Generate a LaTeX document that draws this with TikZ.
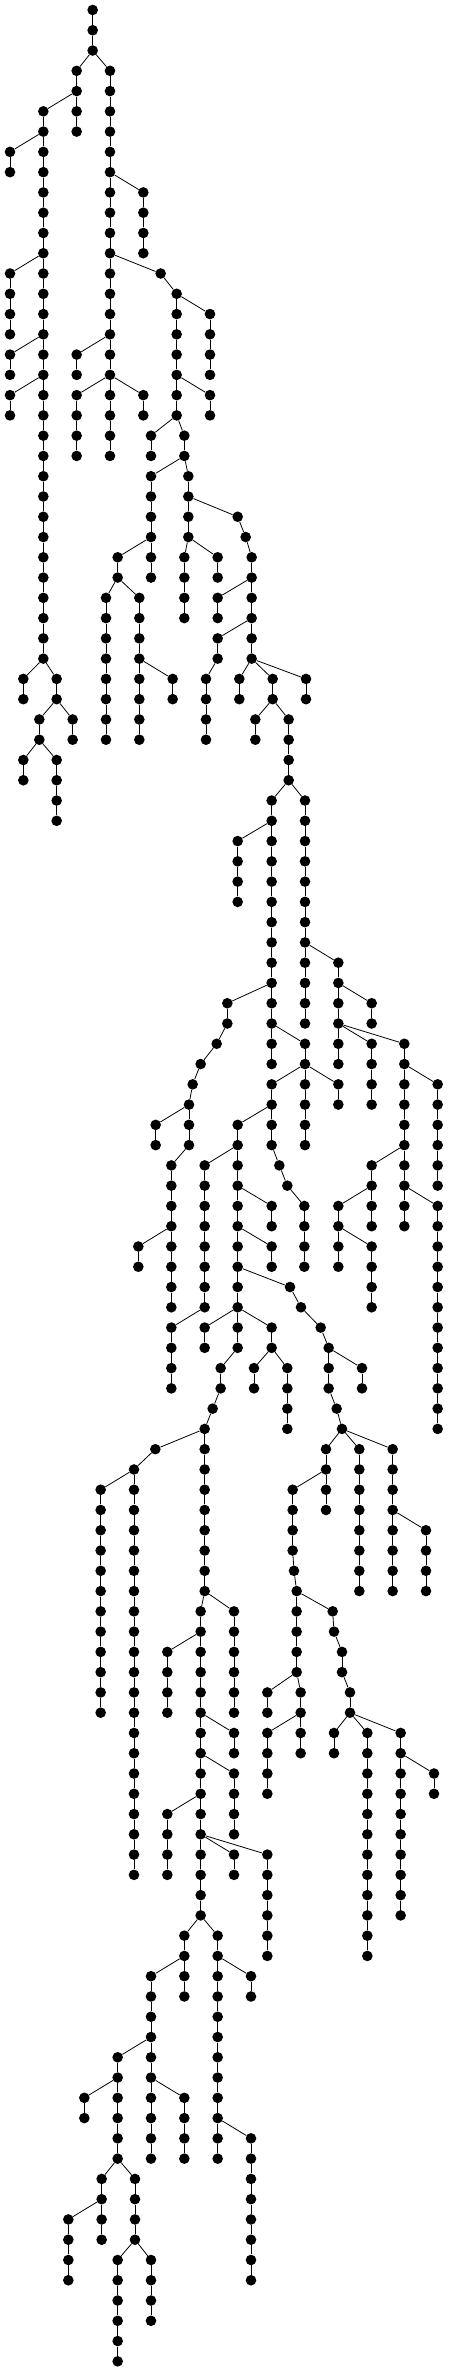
\documentclass[tikz,border=0pt]{standalone}
\begin{document}
\begin{tikzpicture}[x=1pt,y=1pt,
  dot/.style={circle,fill=black,draw=none,inner sep=0pt,minimum size=10.6pt},
  edge/.style={draw=black,line width=0.8pt}]
\useasboundingbox (0,0) rectangle (448,-2371);
\newcommand\chz[3]{%
  \foreach \r in {#2,...,#3}{%
    \node[dot] (n\r-#1) at ({#1/3},{-(10+20.27*\r)}) {};
    \ifnum\r>#2\relax
      \pgfmathtruncatemacro\pr{\r-1}%
      \draw[edge] (n\pr-#1) -- (n\r-#1);
    \fi
  }%
}
\newcommand\chn[4]{\chz{#1}{#2}{#3}\draw[edge] (#4) -- (n#2-#1);}
% root
\chz{278}{0}{2}
\chn{230}{3}{6}{n2-278}
\chn{330}{3}{22}{n2-278}
\chn{130}{5}{32}{n4-230}
\chn{30}{7}{8}{n6-130}
\chn{430}{9}{12}{n8-330}
\chn{30}{13}{16}{n12-130}
\chn{482}{13}{13}{n12-330}
\chn{530}{14}{20}{n13-482}
\chn{630}{15}{18}{n14-530}
\chn{30}{17}{18}{n16-130}
\chn{230}{17}{18}{n16-330}
\chn{30}{19}{20}{n18-130}
\chn{230}{19}{22}{n18-330}
\chn{430}{19}{20}{n18-330}
\chn{630}{19}{20}{n18-530}
\chn{453}{21}{22}{n20-530}
\chn{553}{21}{22}{n20-530}
\chn{453}{23}{28}{n22-553}
\chn{565}{23}{26}{n22-553}
\chn{713}{25}{25}{n24-565}
\chn{737}{26}{26}{n25-713}
\chn{755}{27}{32}{n26-737}
\chn{553}{27}{30}{n26-565}
\chn{653}{27}{28}{n26-565}
\chn{353}{27}{28}{n26-453}
\chn{318}{29}{36}{n28-353}
\chn{418}{29}{36}{n28-353}
\chn{653}{29}{30}{n28-755}
\chn{653}{31}{32}{n30-755}
\chn{618}{33}{36}{n32-653}
\chn{518}{33}{34}{n32-418}
\chn{70}{33}{34}{n32-130}
\chn{170}{33}{34}{n32-130}
\chn{118}{35}{36}{n34-170}
\chn{218}{35}{36}{n34-170}
\chn{70}{37}{38}{n36-118}
\chn{170}{37}{40}{n36-118}
\chn{718}{33}{34}{n32-755}
\chn{818}{33}{34}{n32-755}
\chn{918}{33}{34}{n32-755}
\chn{766}{35}{36}{n34-818}
\chn{866}{35}{38}{n34-818}
\chn{815}{39}{52}{n38-866}
\chn{915}{39}{50}{n38-866}
\chn{713}{41}{44}{n40-815}
\chn{1015}{47}{52}{n46-915}
\chn{1115}{49}{50}{n48-1015}
\chn{682}{49}{50}{n48-815}
\chn{650}{51}{51}{n50-682}
\chn{602}{52}{52}{n51-650}
\chn{578}{53}{53}{n52-602}
\chn{567}{54}{56}{n53-578}
\chn{467}{55}{56}{n54-567}
\chn{915}{51}{56}{n50-815}
\chn{815}{53}{56}{n52-915}
\chn{1015}{53}{54}{n52-915}
\chn{1115}{51}{54}{n50-1015}
\chn{1213}{51}{60}{n50-1015}
\chn{1313}{53}{58}{n52-1213}
\chn{713}{55}{66}{n54-815}
\chn{514}{57}{64}{n56-567}
\chn{614}{57}{64}{n56-713}
\chn{838}{57}{57}{n56-815}
\chn{862}{58}{58}{n57-838}
\chn{913}{59}{62}{n58-862}
\chn{1115}{57}{60}{n56-1213}
\chn{1015}{59}{62}{n58-1115}
\chn{1115}{61}{64}{n60-1015}
\chn{1313}{59}{70}{n58-1213}
\chn{815}{59}{60}{n58-713}
\chn{415}{61}{62}{n60-514}
\chn{815}{61}{62}{n60-713}
\chn{870}{63}{63}{n62-713}
\chn{903}{64}{64}{n63-870}
\chn{962}{65}{65}{n64-903}
\chn{986}{66}{68}{n65-962}
\chn{1086}{67}{68}{n66-986}
\chn{1010}{69}{69}{n68-986}
\chn{1026}{70}{70}{n69-1010}
\chn{978}{71}{74}{n70-1026}
\chn{1078}{71}{78}{n70-1026}
\chn{1178}{71}{78}{n70-1026}
\chn{1278}{75}{78}{n74-1178}
\chn{878}{73}{76}{n72-978}
\chn{882}{77}{77}{n76-878}
\chn{890}{78}{82}{n77-882}
\chn{998}{79}{79}{n78-890}
\chn{1002}{80}{80}{n79-998}
\chn{1026}{81}{82}{n80-1002}
\chn{1050}{83}{84}{n82-1026}
\chn{1002}{85}{86}{n84-1050}
\chn{1102}{85}{96}{n84-1050}
\chn{1202}{85}{94}{n84-1050}
\chn{1302}{87}{88}{n86-1202}
\chn{802}{83}{84}{n82-890}
\chn{902}{83}{86}{n82-890}
\chn{802}{85}{88}{n84-902}
\chn{514}{65}{68}{n64-614}
\chn{614}{65}{66}{n64-713}
\chn{815}{65}{66}{n64-713}
\chn{662}{67}{68}{n66-713}
\chn{762}{67}{68}{n66-815}
\chn{862}{67}{70}{n66-815}
\chn{638}{69}{69}{n68-662}
\chn{614}{70}{78}{n69-638}
\chn{466}{71}{71}{n70-614}
\chn{402}{72}{92}{n71-466}
\chn{302}{73}{84}{n72-402}
\chn{602}{79}{94}{n78-614}
\chn{702}{79}{84}{n78-614}
\chn{502}{81}{84}{n80-602}
\chn{702}{85}{86}{n84-602}
\chn{702}{87}{90}{n86-602}
\chn{502}{89}{92}{n88-602}
\chn{702}{91}{92}{n90-602}
\chn{802}{91}{96}{n90-602}
\chn{553}{95}{98}{n94-602}
\chn{653}{95}{106}{n94-602}
\chn{453}{97}{106}{n96-553}
\chn{753}{97}{98}{n96-653}
\chn{353}{101}{106}{n100-453}
\chn{253}{103}{104}{n102-353}
\chn{553}{103}{106}{n102-453}
\chn{753}{105}{112}{n104-653}
\chn{305}{107}{110}{n106-353}
\chn{405}{107}{110}{n106-353}
\chn{205}{109}{112}{n108-305}
\chn{353}{111}{116}{n110-405}
\chn{453}{111}{114}{n110-405}
\end{tikzpicture}
\end{document}
